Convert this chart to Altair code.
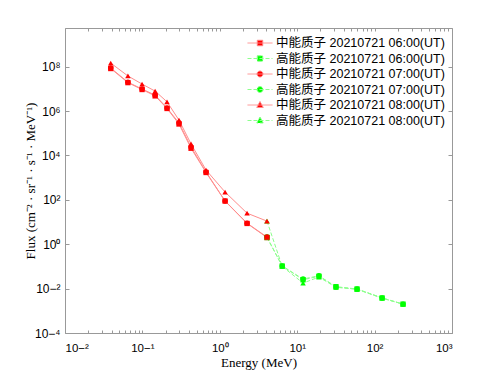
import altair as alt
import pandas as pd

# ---------------- data ----------------
E_MID = [0.039, 0.065, 0.099, 0.146, 0.208, 0.297, 0.425, 0.664, 1.17, 2.25, 4.07]
MID_06 = [8.2e7, 1.9e7, 9.3e6, 4.8e6, 1.3e6, 2.6e5, 2.1e4, 1.7e3, 88, 8.6, 2.0]
MID_07 = [8.7e7, 2.0e7, 9.8e6, 5.2e6, 1.37e6, 2.9e5, 2.4e4, 1.8e3, 89, 8.9, 2.1]
MID_08 = [1.45e8, 3.8e7, 1.64e7, 7.9e6, 2.6e6, 3.9e5, 3.3e4, 2.2e3, 224, 25, 11]

E_HIGH = [4.07, 6.4, 11.9, 19.1, 31.7, 59.3, 125, 233]
HIGH_06 = [2.0, 0.104, 0.025, 0.036, 0.0122, 0.0096, 0.0038, 0.0020]
HIGH_07 = [2.1, 0.105, 0.027, 0.038, 0.0118, 0.0095, 0.0038, 0.0020]
HIGH_08 = [11, 0.100, 0.0178, 0.033, 0.0115, 0.0093, 0.0037, 0.0020]

TIMES = ["06", "07", "08"]
SHAPES = ["square", "circle", "triangle-up"]
SERIES = [
    "中能质子 20210721 06:00(UT)",
    "高能质子 20210721 06:00(UT)",
    "中能质子 20210721 07:00(UT)",
    "高能质子 20210721 07:00(UT)",
    "中能质子 20210721 08:00(UT)",
    "高能质子 20210721 08:00(UT)",
]
X_MAJOR = [0.01, 0.1, 1, 10, 100, 1000]
X_MINOR = [m * 10.0 ** k for k in range(-2, 3) for m in range(1, 10)] + [1000]
Y_MAJOR = [1e-4, 1e-2, 1, 1e2, 1e4, 1e6, 1e8]

# ---------------- tables ----------------
rows = []
# high-energy rows first so the red markers sit on top where they share a point
for t, vals in zip(TIMES, [HIGH_06, HIGH_07, HIGH_08]):
    for e, f in zip(E_HIGH, vals):
        rows.append({"energy": e, "flux": f, "time": t, "kind": "high"})
for t, vals in zip(TIMES, [MID_06, MID_07, MID_08]):
    for e, f in zip(E_MID, vals):
        rows.append({"energy": e, "flux": f, "time": t, "kind": "mid"})
df = pd.DataFrame(rows)
leg_df = pd.DataFrame({"series": SERIES, "energy": [1.0] * 6, "flux": [1.0] * 6})

RED, GREEN = "#ff0000", "#00ff00"
RED_LINE, GREEN_LINE = "#ff8c8c", "#8cff8c"
GRAY = "#999999"

sup = ("'10' + replace(replace(replace(replace(replace(replace(replace(replace("
       "format(round(log(datum.value)/LN10), 'd'),"
       "'-','⁻'),'0','⁰'),'1','¹'),'2','²'),'3','³'),'4','⁴'),'6','⁶'),'8','⁸')")

xs = alt.Scale(type="log", domain=[0.01, 1000])
ys = alt.Scale(type="log", domain=[1e-4, 5.5e9])


def tick_axis(orient, values, size):
    return alt.Axis(orient=orient, values=values, labels=False, domain=False,
                    ticks=True, tickSize=size, offset=-size, tickColor=GRAY,
                    grid=False, title=None)


base = alt.Chart(df)

main_x = alt.Axis(orient="bottom", values=X_MAJOR, labelExpr=sup, ticks=False,
                  domain=False, grid=False, labelPadding=9, labelFontSize=11.5,
                  title="Energy (MeV)", titleY=23, titleBaseline="top")
main_y = alt.Axis(orient="left", values=Y_MAJOR, labelExpr=sup, ticks=False,
                  domain=False, grid=False, labelPadding=5,
                  title="Flux (cm⁻² · sr⁻¹ · s⁻¹ · MeV⁻¹)", titleX=-28)

green_lines = base.transform_filter("datum.kind == 'high'").mark_line(
    color=GREEN_LINE, strokeWidth=1, strokeDash=[4, 2]
).encode(
    x=alt.X("energy:Q", scale=xs, axis=main_x),
    y=alt.Y("flux:Q", scale=ys, axis=main_y),
    detail="time:N",
)

red_lines = base.transform_filter("datum.kind == 'mid'").mark_line(
    color=RED_LINE, strokeWidth=1
).encode(
    x=alt.X("energy:Q", scale=xs, axis=tick_axis("bottom", X_MINOR, 3)),
    y=alt.Y("flux:Q", scale=ys, axis=tick_axis("left", Y_MAJOR, 4)),
    detail="time:N",
)

point_layers = []
for i, (t, shp) in enumerate(zip(TIMES, SHAPES)):
    if i == 0:
        ax_x, ax_y = tick_axis("top", X_MINOR, 3), tick_axis("right", Y_MAJOR, 4)
    else:
        ax_x, ax_y = None, None
    point_layers.append(
        base.transform_filter(f"datum.time == '{t}'").mark_point(
            filled=True, opacity=1, size=30 if shp != "square" else 28, shape=shp
        ).encode(
            x=alt.X("energy:Q", scale=xs, axis=ax_x),
            y=alt.Y("flux:Q", scale=ys, axis=ax_y),
            color=alt.condition("datum.kind == 'mid'", alt.value(RED), alt.value(GREEN)),
        )
    )

PATHS = [
    "M-1,0H1M-0.22,-0.22H0.22V0.22H-0.22Z",
    "M-1,0H1M-0.22,-0.22H0.22V0.22H-0.22Z",
    "M-1,0H1M-0.24,0A0.24,0.24,0,1,0,0.24,0A0.24,0.24,0,1,0,-0.24,0Z",
    "M-1,0H1M-0.24,0A0.24,0.24,0,1,0,0.24,0A0.24,0.24,0,1,0,-0.24,0Z",
    "M-1,0H1M0,-0.28L0.26,0.2L-0.26,0.2Z",
    "M-1,0H1M0,-0.28L0.26,0.2L-0.26,0.2Z",
]
leg = alt.Legend(orient="none", legendX=182, legendY=7.5, title=None, padding=0,
                 clipHeight=15, rowPadding=0.5, symbolSize=625, labelOffset=3,
                 symbolStrokeWidth=1, labelFontSize=12.5, labelLimit=400,
                 labelFont="Liberation Sans, Noto Sans CJK SC", labelColor="black")

legend_layer = alt.Chart(leg_df).transform_filter("false").mark_point(
    opacity=1, size=625, strokeWidth=1
).encode(
    x=alt.X("energy:Q", scale=xs, axis=None),
    y=alt.Y("flux:Q", scale=ys, axis=None),
    fill=alt.Fill("series:N", scale=alt.Scale(domain=SERIES, range=[RED, GREEN] * 3), legend=leg, sort=SERIES),
    stroke=alt.Stroke("series:N", scale=alt.Scale(domain=SERIES, range=[RED_LINE, GREEN_LINE] * 3), legend=leg, sort=SERIES),
    strokeDash=alt.StrokeDash("series:N", scale=alt.Scale(domain=SERIES, range=[[1, 0], [4, 2]] * 3), legend=leg, sort=SERIES),
    shape=alt.Shape("series:N", scale=alt.Scale(domain=SERIES, range=PATHS), legend=leg, sort=SERIES),
)

chart = alt.layer(
    green_lines, red_lines, *point_layers, legend_layer
).resolve_axis(
    x="independent", y="independent"
).properties(
    width=387, height=305,
    autosize=alt.AutoSizeParams(type="none"),
    padding={"left": 65, "top": 28, "right": 48, "bottom": 42},
    background="white",
).configure_view(
    stroke=GRAY, strokeWidth=1
).configure_axis(
    labelFont="Liberation Sans", labelFontSize=12, labelColor="black",
    titleFont="Liberation Serif", titleFontSize=13, titleFontWeight="normal",
    titleColor="black",
)

chart.save("out.html", embed_options={"renderer": "svg", "actions": False})
